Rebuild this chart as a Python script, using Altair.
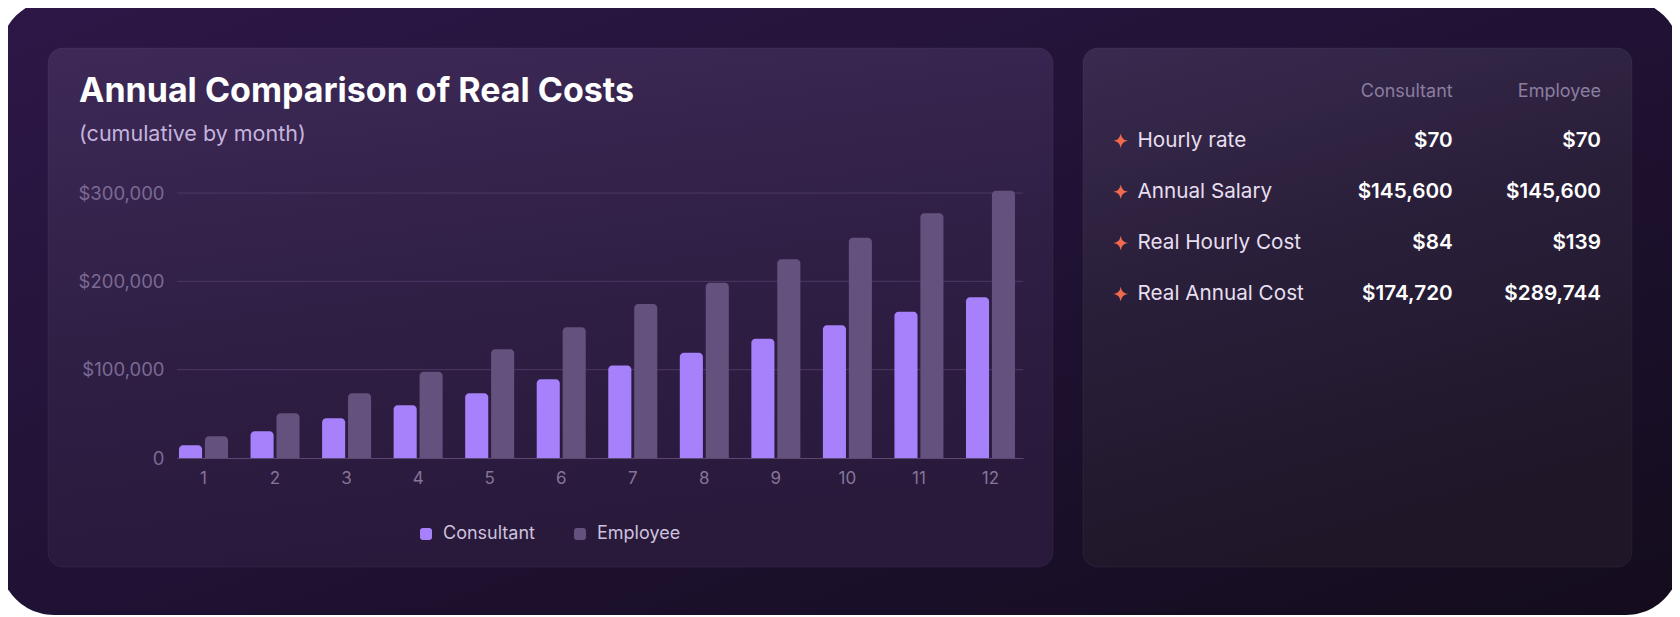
import altair as alt
import pandas as pd

# ---------------- data ----------------
months = list(range(1, 13))
consultant = [14400, 30200, 44900, 59600, 73200, 89100, 104700, 119200, 135100, 150200, 165600, 181900]
employee = [24500, 50600, 73200, 97700, 123000, 147900, 174300, 198500, 224900, 249400, 277000, 302600]
series = ["Consultant", "Employee"]
series_colors = ["#a780fb", "#65517d"]
y_ticks = [0, 100000, 200000, 300000]

table_rows = ["Hourly rate", "Annual Salary", "Real Hourly Cost", "Real Annual Cost"]
table_consultant = [70, 145600, 84, 174720]
table_employee = [70, 145600, 139, 289744]
table_headers = ["Consultant", "Employee"]

title_text = "Annual Comparison of Real Costs"
subtitle_text = "(cumulative by month)"

# ---------------- layout helpers (page px -> plot-relative px) ----------------
PX0, PY0 = 177, 193          # page position of plot origin
W, H = 846, 265              # plot area
CANVAS_W, CANVAS_H = 1664, 609
Y_MAX = 300000


def rx(px):
    return px - PX0


def ry(py):
    return py - PY0


one = pd.DataFrame({"k": [0]})


def grad(stops, x2=0.0, y2=1.0):
    return alt.LinearGradient(
        gradient="linear",
        stops=[alt.GradientStop(color=c, offset=o) for o, c in stops],
        x1=0, y1=0, x2=x2, y2=y2,
    )


def box(x0, y0, x1, y1, fill, radius, stroke=None):
    kw = dict(fill=fill, cornerRadius=radius)
    if stroke:
        kw.update(stroke=stroke, strokeWidth=1)
    return alt.Chart(one).mark_rect(**kw).encode(
        x=alt.value(rx(x0)), x2=alt.value(rx(x1)),
        y=alt.value(ry(y0)), y2=alt.value(ry(y1)),
    )


outer = box(0, 0, 1680, 615,
            grad([(0, "#2d1747"), (0.5, "#201234"), (1, "#140c1d")], x2=1, y2=1), 54)
left_panel = box(48, 48, 1053, 567,
                 grad([(0, "#3e2957"), (0.55, "#2f1f45"), (1, "#29193b")], x2=0.25, y2=1),
                 15, stroke="rgba(255,255,255,0.05)")
right_panel = box(1083, 48, 1632, 567,
                  grad([(0, "#392a4f"), (0.45, "#2a1f3a"), (1, "#1f1628")], x2=0.3, y2=1),
                  15, stroke="rgba(255,255,255,0.05)")

title = alt.Chart(one).mark_text(
    text=title_text, align="left", baseline="alphabetic", font="Inter",
    fontSize=34, fontWeight="bold", color="#ffffff",
).encode(x=alt.value(rx(79)), y=alt.value(ry(102.3)))

subtitle = alt.Chart(one).mark_text(
    text=subtitle_text, align="left", baseline="alphabetic", font="Inter",
    fontSize=21.5, color="#c4b4dd",
).encode(x=alt.value(rx(79)), y=alt.value(ry(141)))

# ---------------- grid (behind bars) ----------------
grid_df = pd.DataFrame({"v": y_ticks[1:]})
grid = alt.Chart(grid_df).mark_rule(color="#4b3964", strokeWidth=1).encode(
    y=alt.Y("v:Q", scale=alt.Scale(domain=[0, Y_MAX], nice=False), axis=None),
    x=alt.value(0), x2=alt.value(W),
)

# ---------------- bars ----------------
bars_df = pd.DataFrame({
    "month": months * 2,
    "series": [series[0]] * 12 + [series[1]] * 12,
    "cost": consultant + employee,
})

ROUND_SQ = ("M -1 -0.5 Q -1 -1 -0.5 -1 L 0.5 -1 Q 1 -1 1 -0.5 L 1 0.5 "
            "Q 1 1 0.5 1 L -0.5 1 Q -1 1 -1 0.5 Z")

bars = alt.Chart(bars_df).mark_bar(
    cornerRadiusTopLeft=4, cornerRadiusTopRight=4
).encode(
    x=alt.X("month:O",
            scale=alt.Scale(paddingInner=0.315, paddingOuter=0.07, align=0.2),
            axis=alt.Axis(title=None, labelAngle=0, labelColor="#857599",
                          labelFontSize=17, labelFont="Inter", domainColor="#5b4974",
                          domainWidth=1, ticks=False, tickSize=0, labelPadding=12,
                          grid=False, zindex=1)),
    xOffset=alt.XOffset("series:N", scale=alt.Scale(domain=series, paddingInner=0.11)),
    y=alt.Y("cost:Q", stack=None,
            scale=alt.Scale(domain=[0, Y_MAX], nice=False),
            axis=alt.Axis(title=None, values=y_ticks,
                          labelExpr="datum.value == 0 ? '0' : '$' + format(datum.value, ',')",
                          labelColor="#7b6a93", labelFontSize=18.5, labelFont="Inter",
                          labelPadding=13, ticks=False, tickSize=0, domain=False,
                          grid=False, zindex=1)),
    color=alt.Color("series:N",
                    scale=alt.Scale(domain=series, range=series_colors),
                    legend=alt.Legend(title=None, orient="none", direction="horizontal",
                                      legendX=rx(417), legendY=ry(525),
                                      symbolType=ROUND_SQ, symbolSize=144,
                                      symbolStrokeWidth=0, symbolOpacity=1,
                                      labelColor="#cdc2de", labelFontSize=18,
                                      labelFont="Inter", labelOffset=8,
                                      columnPadding=36, padding=0, zindex=1)),
)

# ---------------- table ----------------
table_df = pd.DataFrame({
    "row": table_rows,
    "consultant": table_consultant,
    "employee": table_employee,
})
row_y = alt.Y("row:N", axis=None,
              scale=alt.Scale(type="point", domain=table_rows,
                              range=[ry(140.8), ry(294.0)], padding=0))

STAR = ("M 0 -1 Q 0.12 -0.12 1 0 Q 0.12 0.12 0 1 Q -0.12 0.12 -1 0 "
        "Q -0.12 -0.12 0 -1 Z")

stars = alt.Chart(table_df).mark_point(
    shape=STAR, filled=True, size=210, color="#f26a4e", opacity=1, strokeWidth=0
).encode(x=alt.value(rx(1120.7)), y=row_y)

row_labels = alt.Chart(table_df).mark_text(
    align="left", baseline="middle", font="Inter", fontSize=20.7, color="#e7dff0"
).encode(x=alt.value(rx(1137.5)), y=row_y, text="row:N")

cons_vals = alt.Chart(table_df).mark_text(
    align="right", baseline="middle", font="Inter", fontSize=20.7, fontWeight=600,
    color="#ffffff"
).encode(x=alt.value(rx(1452.7)), y=row_y,
         text=alt.Text("consultant:Q", format="$,.0f"))

emp_vals = alt.Chart(table_df).mark_text(
    align="right", baseline="middle", font="Inter", fontSize=20.7, fontWeight=600,
    color="#ffffff"
).encode(x=alt.value(rx(1601)), y=row_y,
         text=alt.Text("employee:Q", format="$,.0f"))

hdr_cons = alt.Chart(one).mark_text(
    text=table_headers[0], align="right", baseline="middle", font="Inter",
    fontSize=18, color="#8b7ea0"
).encode(x=alt.value(rx(1452.7)), y=alt.value(ry(92.3)))

hdr_emp = alt.Chart(one).mark_text(
    text=table_headers[1], align="right", baseline="middle", font="Inter",
    fontSize=18, color="#8b7ea0"
).encode(x=alt.value(rx(1601)), y=alt.value(ry(92.3)))

chart = alt.layer(
    outer, left_panel, right_panel, title, subtitle, grid, bars,
    hdr_cons, hdr_emp, stars, row_labels, cons_vals, emp_vals,
).resolve_scale(
    y="independent"
).properties(
    width=W, height=H,
    autosize=alt.AutoSizeParams(type="none"),
    padding={"left": PX0 - 8, "top": PY0 - 8,
             "right": CANVAS_W - (PX0 - 8) - W,
             "bottom": CANVAS_H - (PY0 - 8) - H},
    background="#ffffff",
).configure(font="Inter").configure_view(stroke=None)

chart.save("out.html", embed_options={"renderer": "svg", "actions": False})
